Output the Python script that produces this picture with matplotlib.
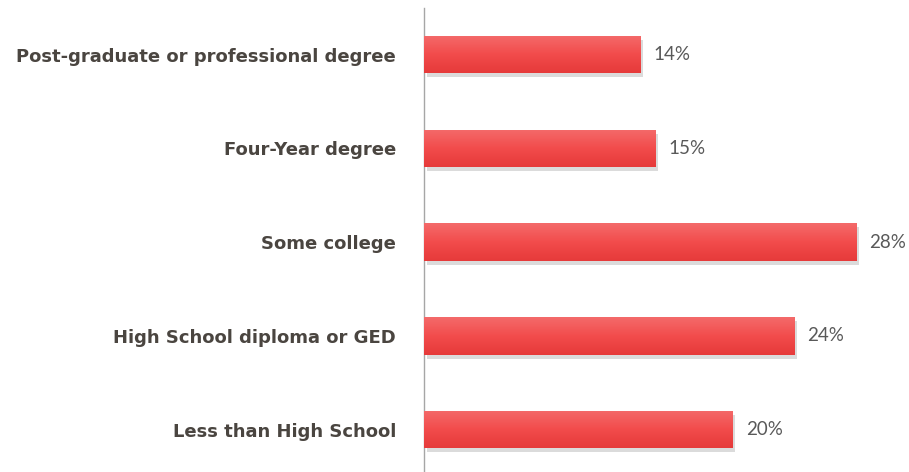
import matplotlib
matplotlib.use("Agg")
import matplotlib.pyplot as plt
import numpy as np
from matplotlib import patheffects as pe
from matplotlib.colors import LinearSegmentedColormap

categories = ["Less than High School", "High School diploma or GED", "Some college",
              "Four-Year degree", "Post-graduate or professional degree"]
values = [20, 24, 28, 15, 14]
labels = ["20%", "24%", "28%", "15%", "14%"]

W, H = 909, 472
fig = plt.figure(figsize=(W / 100, H / 100), dpi=100)
ax = fig.add_axes([424 / W, 0, 1 - 424 / W, 464 / H])

y = np.arange(len(categories))
bars = ax.barh(y, values, height=0.4, color="#f04848", zorder=2,
               path_effects=[pe.SimplePatchShadow(offset=(2, -3), shadow_rgbFace="#9a9a9a", alpha=0.35),
                             pe.Normal()])

# vertical gradient overlay on each bar (lighter at top)
grad = np.linspace(0, 1, 64).reshape(-1, 1)
cmap = LinearSegmentedColormap.from_list("g", ["#e63a3a", "#f24c4c", "#f46a6a"])
for b in bars:
    x0, y0 = b.get_x(), b.get_y()
    w, h = b.get_width(), b.get_height()
    im = ax.imshow(grad, extent=(x0, x0 + w, y0, y0 + h), cmap=cmap, aspect="auto",
                   zorder=3, origin="lower")
    im.set_clip_path(b)

ax.set_xlim(0, 485 / 15.43)
ax.set_ylim(-0.453, 4.496)

for yi, v, lab in zip(y, values, labels):
    ax.text(v + 0.85, yi, lab, va="center", ha="left", fontsize=13.5,
            color="#595959", family="Lato")

ax.set_yticks(y)
ax.set_yticklabels(categories, fontsize=13, fontweight="bold", color="#4a4540",
                   family="DejaVu Sans")
ax.tick_params(axis="y", length=0, pad=20)
ax.set_xticks([])
for s in ["top", "right", "bottom"]:
    ax.spines[s].set_visible(False)
ax.spines["left"].set_color("#a6a6a6")
ax.spines["left"].set_linewidth(1)

fig.savefig("out.png", dpi=100)
